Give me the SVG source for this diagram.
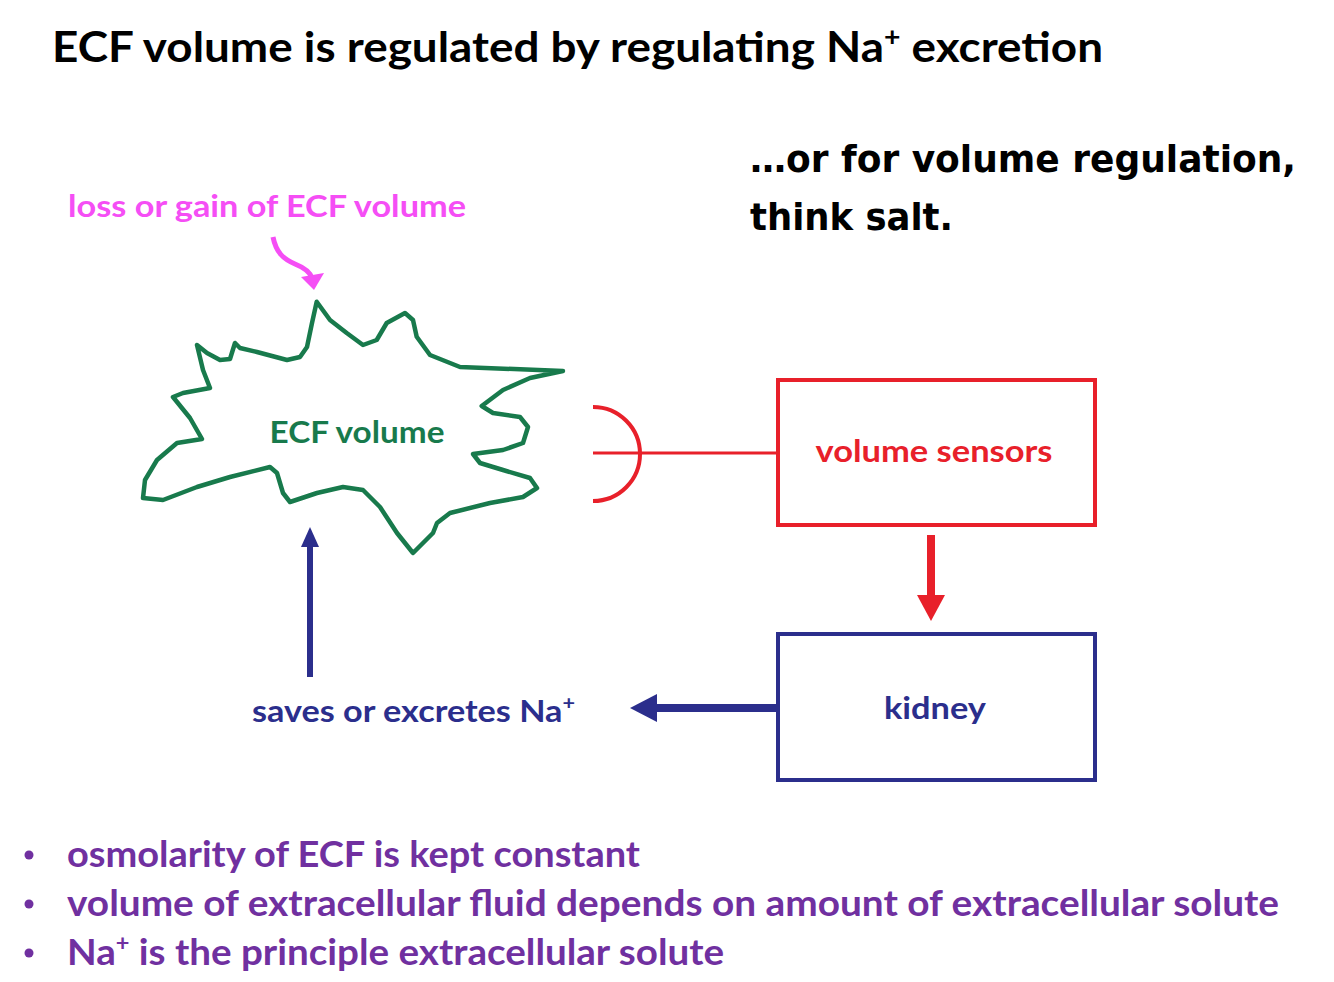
<svg xmlns="http://www.w3.org/2000/svg" width="1334" height="982" viewBox="0 0 1334 982">
<defs>
<style>
.c{font-family:Lato,"Open Sans","Liberation Sans",sans-serif;font-weight:bold}
.v{font-family:"DejaVu Sans",Verdana,sans-serif;font-weight:bold}
.pur{fill:#7030a0;font-size:36px}
</style>
</defs>
<rect width="1334" height="982" fill="#fff"/>
<text class="c" x="52" y="62" font-size="42" textLength="1051" lengthAdjust="spacingAndGlyphs">ECF volume is regulated by regulating Na<tspan dy="-16" font-size="26">+</tspan><tspan dy="16"> excretion</tspan></text>
<text class="v" x="750" y="172" font-size="38" textLength="546" lengthAdjust="spacingAndGlyphs">…or for volume regulation,</text>
<text class="v" x="750" y="230" font-size="38" textLength="203" lengthAdjust="spacingAndGlyphs">think salt.</text>
<g id="loss">
<text class="c" x="68" y="217" font-size="31" fill="#f54ef5" textLength="398" lengthAdjust="spacingAndGlyphs">loss or gain of ECF volume</text>
</g>
<g id="ecf">
<path d="M316.7,301.7 L330,320 L346.7,333 L363,345 L376.7,340 L386.7,323 L405,313 L413,320 L416.7,336.7 L430,355 L460,367 L563,371 L530,378 L503,390 L481.7,406 L493,413 L520,417 L528,427 L523,443 L503,450 L473,454 L480,463 L503,470 L530,478 L537,488 L523,497 L490,503 L450,513 L437,523 L433,533 L413,553 L397,533 L380,507 L363,490 L343,487 L317,493 L290,502 L283,493 L277,473 L270,467 L230,477 L197,487 L163,500 L143,498 L145,480 L157,460 L177,443 L202,439 L190,418 L173,397 L183,393 L210,388 L203,370 L197,345 L207,353 L220,360 L230,359 L235,343 L240,348 L257,352 L287,360 L300,357 L307,347 L312,323 Z" fill="none" stroke="#187a4c" stroke-width="4.5" stroke-linejoin="round"/>
<text class="c" x="357" y="443" font-size="31" fill="#187a4c" text-anchor="middle" textLength="175" lengthAdjust="spacingAndGlyphs">ECF volume</text>
</g>
<g id="sensors">
<rect x="778" y="380" width="317" height="145" fill="none" stroke="#e8202a" stroke-width="4"/>
<text class="c" x="934" y="462" font-size="31" fill="#e8202a" text-anchor="middle" textLength="237" lengthAdjust="spacingAndGlyphs">volume sensors</text>
</g>
<g id="kidney">
<rect x="778" y="634" width="317" height="146" fill="none" stroke="#2b2e8c" stroke-width="4"/>
<text class="c" x="935" y="719" font-size="31" fill="#2b2e8c" text-anchor="middle" textLength="102" lengthAdjust="spacingAndGlyphs">kidney</text>
</g>
<g id="saves">
<text class="c" x="252" y="722" font-size="30" fill="#2b2e8c" textLength="323" lengthAdjust="spacingAndGlyphs">saves or excretes Na<tspan dy="-12" font-size="19">+</tspan></text>
</g>
<g id="connectors">
<path d="M273,237 C276,252 283,259 295,264 C305,268 310,272 312,278" fill="none" stroke="#f54ef5" stroke-width="5"/>
<path d="M301,277 L324,273 L314,290 Z" fill="#f54ef5"/>
<path d="M593,407 A47,47 0 0 1 593,501" fill="none" stroke="#e8202a" stroke-width="4"/>
<line x1="593" y1="453" x2="778" y2="453" stroke="#e8202a" stroke-width="3"/>
<line x1="931" y1="535" x2="931" y2="597" stroke="#e8202a" stroke-width="8"/>
<path d="M917,595 L945,595 L931,621 Z" fill="#e8202a"/>
<line x1="778" y1="708" x2="655" y2="708" stroke="#2b2e8c" stroke-width="8"/>
<path d="M657,694 L657,722 L630,708 Z" fill="#2b2e8c"/>
<line x1="310" y1="677" x2="310" y2="545" stroke="#2b2e8c" stroke-width="6"/>
<path d="M301,547 L319,547 L310,527 Z" fill="#2b2e8c"/>
</g>
<g id="bullets">
<circle cx="29" cy="855" r="4.5" fill="#7030a0"/>
<circle cx="29" cy="904" r="4.5" fill="#7030a0"/>
<circle cx="29" cy="953" r="4.5" fill="#7030a0"/>
<text class="c pur" x="67" y="867" textLength="573" lengthAdjust="spacingAndGlyphs">osmolarity of ECF is kept constant</text>
<text class="c pur" x="67" y="916" textLength="1212" lengthAdjust="spacingAndGlyphs">volume of extracellular fluid depends on amount of extracellular solute</text>
<text class="c pur" x="67" y="965" textLength="657" lengthAdjust="spacingAndGlyphs">Na<tspan dy="-14" font-size="22">+</tspan><tspan dy="14"> is the principle extracellular solute</tspan></text>
</g>
</svg>
